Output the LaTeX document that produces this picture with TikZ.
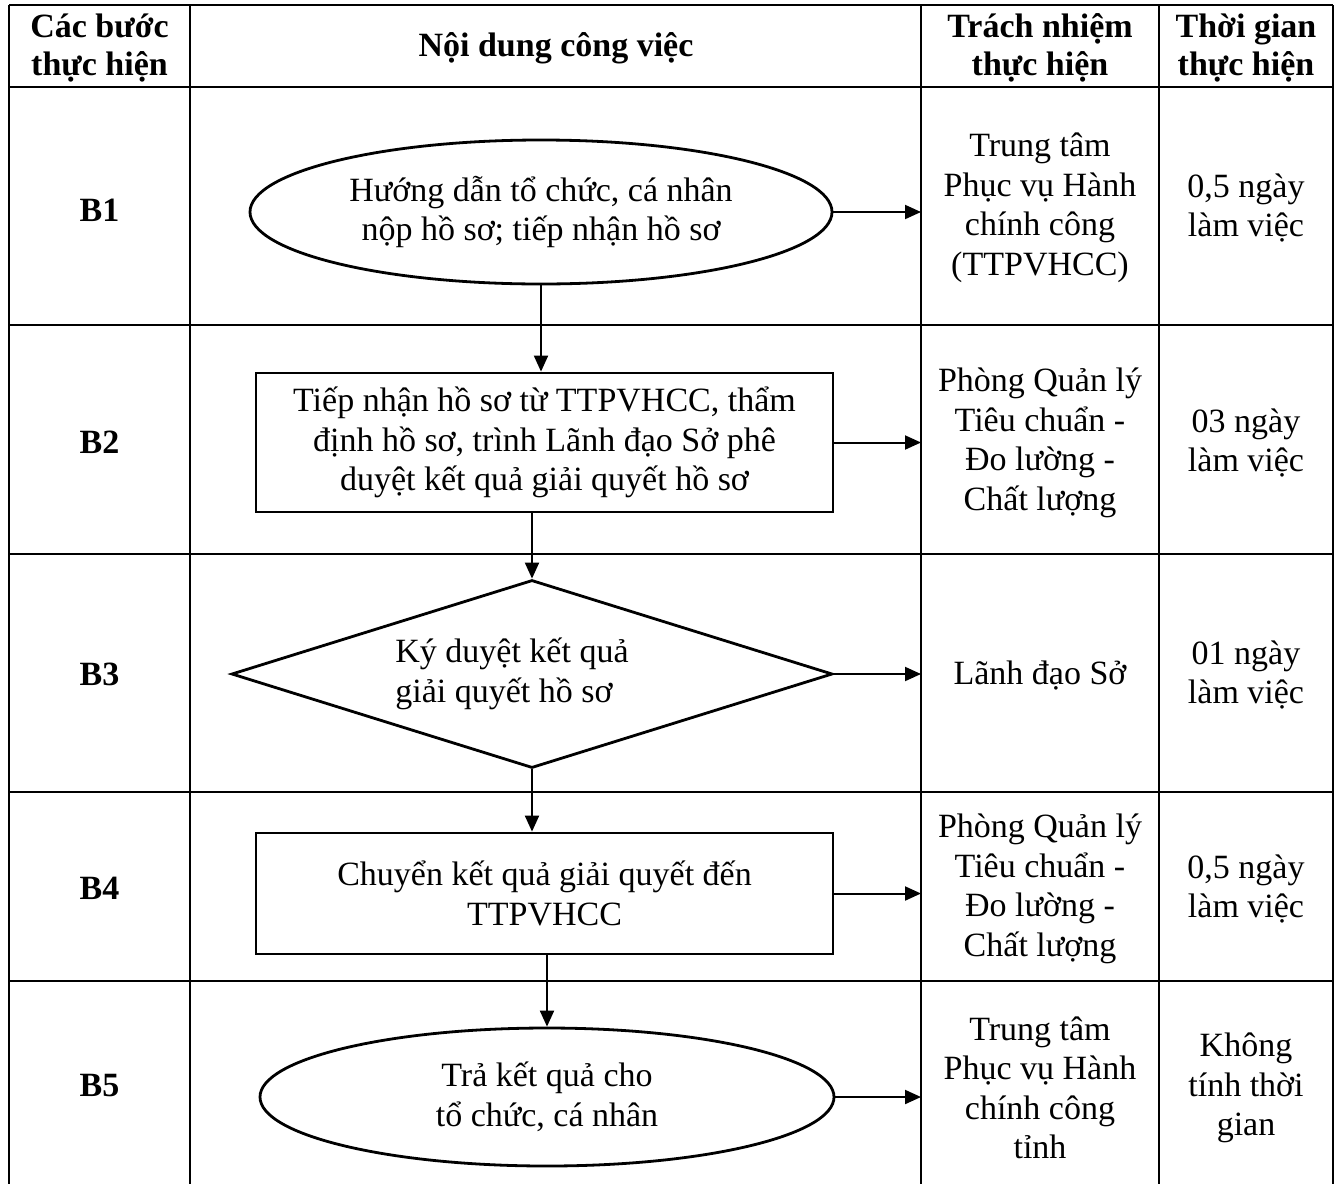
\documentclass[tikz,border=0pt]{standalone}
\usepackage{fontspec}
\setmainfont{Liberation Serif}
\usetikzlibrary{shapes.geometric,arrows.meta}
\tikzset{
  grid/.style={line width=1.6pt},
  shp/.style={line width=2.8pt, inner sep=0pt, align=center},
  arr/.style={line width=2pt, -{Triangle[length=16pt,width=14pt]}},
  txt/.style={inner sep=0pt, align=center, font=\fontsize{34}{39.5}\selectfont},
  hdr/.style={inner sep=0pt, align=center, font=\fontsize{34}{38.5}\selectfont\bfseries},
}
\begin{document}
\begin{tikzpicture}[x=1pt,y=-1pt]
\useasboundingbox (0,0) rectangle (1340,1184);
% table grid
\foreach \xx in {9,190,921,1159,1333} \draw[grid] (\xx,5) -- (\xx,1184);
\foreach \yy in {5,87,325,554,792,981} \draw[grid] (9,\yy) -- (1333,\yy);
\coordinate (c3) at (921,0);
% header
\node[hdr] (h1) at (99.5,48) {Các bước\\thực hiện};
\node[hdr] (h2) at (556,48) {Nội dung công việc};
\node[hdr] (h3) at (1040,48) {Trách nhiệm\\thực hiện};
\node[hdr] (h4) at (1246,48) {Thời gian\\thực hiện};
% step labels
\node[hdr] (b1) at (99.5,210) {B1};
\node[hdr] (b2) at (99.5,442) {B2};
\node[hdr] (b3) at (99.5,674) {B3};
\node[hdr] (b4) at (99.5,888) {B4};
\node[hdr] (b5) at (99.5,1086) {B5};
% shapes
\node[shp, txt, ellipse, draw, minimum width=582pt, minimum height=144pt] (e1) at (541,212)
  {Hướng dẫn tổ chức, cá nhân\\nộp hồ sơ; tiếp nhận hồ sơ};
\node[shp, txt, rectangle, draw, minimum width=577pt, minimum height=139pt] (r2) at (544.5,442.5)
  {Tiếp nhận hồ sơ từ TTPVHCC, thẩm\\định hồ sơ, trình Lãnh đạo Sở phê\\duyệt kết quả giải quyết hồ sơ};
\node[shp, diamond, draw, shape aspect=3.2, minimum width=601pt, minimum height=188pt] (d3) at (532,674) {};
\node[txt, align=left] (t3) at (512,674) {Ký duyệt kết quả\\giải quyết hồ sơ};
\node[shp, txt, rectangle, draw, minimum width=577pt, minimum height=121pt] (r4) at (544.5,893.5)
  {Chuyển kết quả giải quyết đến\\TTPVHCC};
\node[shp, txt, ellipse, draw, minimum width=574pt, minimum height=138pt] (e5) at (547,1097)
  {Trả kết quả cho\\tổ chức, cá nhân};
% vertical arrows
\draw[arr] (e1.south) -- (e1.south |- r2.north);
\draw[arr] (d3.north |- r2.south) -- (d3.north);
\draw[arr] (d3.south) -- (d3.south |- r4.north);
\draw[arr] (e5.north |- r4.south) -- (e5.north);
% horizontal arrows
\draw[arr] (e1.east) -- (e1.east -| c3);
\draw[arr] (r2.east) -- (r2.east -| c3);
\draw[arr] (d3.east) -- (d3.east -| c3);
\draw[arr] (r4.east) -- (r4.east -| c3);
\draw[arr] (e5.east) -- (e5.east -| c3);
% responsibility column
\node[txt] (s1) at (1040,208) {Trung tâm\\Phục vụ Hành\\chính công\\(TTPVHCC)};
\node[txt] (s2) at (1040,443) {Phòng Quản lý\\Tiêu chuẩn -\\Đo lường -\\Chất lượng};
\node[txt] (s3) at (1040,676) {Lãnh đạo Sở};
\node[txt] (s4) at (1040,889) {Phòng Quản lý\\Tiêu chuẩn -\\Đo lường -\\Chất lượng};
\node[txt] (s5) at (1040,1088) {Trung tâm\\Phục vụ Hành\\chính công\\tỉnh};
% time column
\node[txt] (m1) at (1246,208) {0,5 ngày\\làm việc};
\node[txt] (m2) at (1246,443) {03 ngày\\làm việc};
\node[txt] (m3) at (1246,675) {01 ngày\\làm việc};
\node[txt] (m4) at (1246,889) {0,5 ngày\\làm việc};
\node[txt] (m5) at (1246,1088) {Không\\tính thời\\gian};
\end{tikzpicture}
\end{document}
